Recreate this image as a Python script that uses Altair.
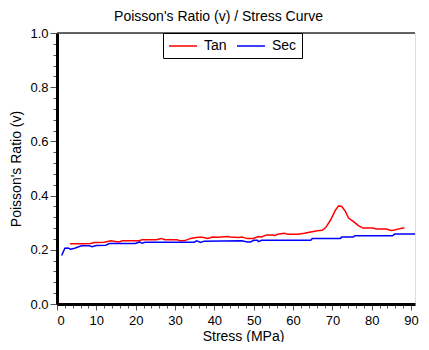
import altair as alt
import pandas as pd

# ---- data ----
tan_x = [3.3, 5, 7, 8.5, 9.5, 10.5, 12, 13.7, 14.8, 15.8, 16.6, 18, 20.8, 21.6, 23,
         25.3, 26.5, 27.4, 29, 30.5, 31.5, 32.5, 34, 35.8, 37, 38.3, 39.5, 41, 43.3,
         44, 46.2, 47, 47.8, 48.4, 49.9, 51.2, 52, 53.3, 54.9, 55.2, 56.1, 57.8, 58.7,
         61.2, 62.9, 64.5, 66.2, 67.4, 68.3, 69.5, 70.8, 71.6, 72.4, 73.3, 74.1, 75.3,
         76.6, 77.8, 80.3, 81.2, 83.7, 85, 85.8, 87.4, 88.3]
tan_y = [0.222, 0.222, 0.222, 0.223, 0.227, 0.227, 0.228, 0.233, 0.231, 0.229, 0.233,
         0.233, 0.233, 0.237, 0.237, 0.237, 0.242, 0.237, 0.237, 0.237, 0.233, 0.234,
         0.242, 0.246, 0.246, 0.242, 0.247, 0.246, 0.249, 0.247, 0.245, 0.247, 0.244,
         0.242, 0.242, 0.249, 0.247, 0.255, 0.255, 0.252, 0.257, 0.261, 0.257, 0.257,
         0.261, 0.266, 0.270, 0.272, 0.282, 0.309, 0.347, 0.362, 0.360, 0.342, 0.317,
         0.305, 0.289, 0.280, 0.280, 0.277, 0.277, 0.271, 0.273, 0.279, 0.281]

sec_x = [1.2, 2.0, 2.8, 3.4, 4.5, 6.2, 8.3, 8.9, 10, 12.4, 13.3, 19.9, 21, 21.6, 22.4,
         34.9, 35.5, 36.5, 37.4, 47, 48.4, 49.2, 50, 51, 51.2, 52, 64.5, 64.9, 72,
         72.4, 75.3, 75.75, 85.3, 85.8, 93]
sec_y = [0.179, 0.206, 0.207, 0.202, 0.206, 0.215, 0.215, 0.211, 0.216, 0.217, 0.223,
         0.223, 0.229, 0.224, 0.228, 0.228, 0.233, 0.227, 0.232, 0.233, 0.229, 0.229,
         0.235, 0.235, 0.230, 0.235, 0.235, 0.242, 0.242, 0.247, 0.247, 0.252, 0.252,
         0.258, 0.258]

series_names = ["Tan", "Sec"]
series_colors = ["#ff0000", "#0000ff"]

x_ticks = list(range(0, 92, 2))          # minor every 2, labelled every 10
y_ticks = [round(i * 0.04, 2) for i in range(26)]  # minor every 0.04, labelled every 0.2
top_value = [1.0]

FONT = "Liberation Sans"

df = pd.concat([
    pd.DataFrame({"stress": tan_x, "ratio": tan_y, "series": "Tan",
                  "idx": list(range(len(tan_x)))}),
    pd.DataFrame({"stress": sec_x, "ratio": sec_y, "series": "Sec",
                  "idx": list(range(len(sec_x)))}),
])

x_major = "datum.value % 10 == 0"
y_major = "abs(datum.value * 5 - round(datum.value * 5)) < 0.001"

x_axis = alt.Axis(
    values=x_ticks, title="Stress (MPa)",
    labelExpr=f"({x_major}) ? datum.label : ''", labelOverlap=False,
    tickSize={"condition": {"test": x_major, "value": 6}, "value": 4},
    tickColor="#555", tickWidth=1,
    domainColor="#000", domainWidth=3,
    labelFont=FONT, labelFontSize=13, labelColor="#000", labelPadding=4,
    titleFont=FONT, titleFontSize=14, titleFontWeight="normal", titleColor="#000",
    titleX=186, titleY=36, titleAlign="center", titleBaseline="alphabetic",
    grid=False,
)
y_axis = alt.Axis(
    values=y_ticks, title="Poisson's Ratio (v)", format=".1f",
    labelExpr=f"({y_major}) ? datum.label : ''", labelOverlap=False,
    tickSize={"condition": {"test": y_major, "value": 7}, "value": 4},
    tickColor="#555", tickWidth=1,
    domainColor="#000", domainWidth=3,
    labelFont=FONT, labelFontSize=13, labelColor="#000", labelPadding=2,
    titleFont=FONT, titleFontSize=14, titleFontWeight="normal", titleColor="#000",
    titleX=-41, titleY=135.5, titleAngle=-90, titleAlign="center",
    titleBaseline="middle", grid=False,
)

x_scale = alt.Scale(domain=[0, 91], nice=False, zero=False)
y_scale = alt.Scale(domain=[0, 1], nice=False)

lines = alt.Chart(df).mark_line(strokeWidth=1.5, clip=True).encode(
    x=alt.X("stress:Q", scale=x_scale, axis=x_axis),
    y=alt.Y("ratio:Q", scale=y_scale, axis=y_axis),
    color=alt.Color("series:N",
                    scale=alt.Scale(domain=series_names, range=series_colors),
                    legend=alt.Legend(
                        orient="none", legendX=106, legendY=0,
                        direction="horizontal", title=None,
                        strokeColor="#000", fillColor="#fff", padding=5,
                        symbolType="M-1,0H3", symbolSize=196,
                        symbolStrokeWidth=1.5, labelFont=FONT,
                        labelFontSize=14, labelColor="#000", labelOffset=20,
                        columnPadding=7)),
    order="idx:Q",
)

top_rule = alt.Chart(pd.DataFrame({"ratio": top_value})).mark_rule(
    color="#333", strokeWidth=1.5
).encode(y=alt.Y("ratio:Q", scale=y_scale, axis=y_axis))

chart = alt.layer(top_rule, lines).properties(
    width=358, height=271,
    title=alt.TitleParams("Poisson's Ratio (v) / Stress Curve", font=FONT,
                          fontSize=14, fontWeight="normal", color="#000",
                          anchor="middle", frame="group", dx=-17.5, offset=3),
    autosize=alt.AutoSizeParams(type="none"),
    padding={"left": 49, "top": 25, "right": 6, "bottom": 38},
).configure_view(stroke=None).configure(background="white")

chart.save("out.html", embed_options={"renderer": "svg", "actions": False})
